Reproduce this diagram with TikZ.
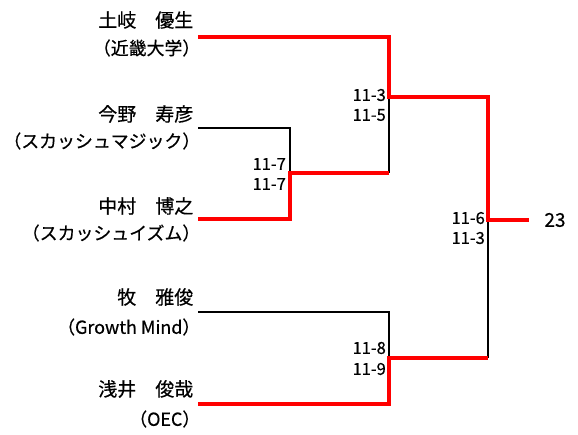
\documentclass[tikz,border=0pt]{standalone}
\usepackage{fontspec}
\setmainfont{Noto Sans CJK JP}[FakeBold=0.5]
\usetikzlibrary{calc,positioning}

\begin{document}
\begin{tikzpicture}
        [x=1pt,y=-1pt,
         player/.style={anchor=east, inner sep=0pt, font=\fontsize{19}{23}\selectfont},
         club/.style={anchor=east, inner sep=0pt, font=\fontsize{17.9}{21}\selectfont},
         score/.style={anchor=east, inner sep=0pt, font=\fontsize{16.5}{19}\selectfont},
         win/.style={draw=red, line width=3.2pt},
         lose/.style={draw=black, line width=1.3pt}]
        %\draw[help lines] (0,0) grid[step=50] (578,434);
        \useasboundingbox (0,0) rectangle (578,434);
        \node[player] (n1) at (193.5,20) {土岐　優生};
        \node[club] (c1) at (200.5,48) {（近畿大学）};
        \node[player] (n2) at (193.5,114) {今野　寿彦};
        \node[club] (c2) at (200.5,141) {（スカッシュマジック）};
        \node[player] (n3) at (193.5,206) {中村　博之};
        \node[club] (c3) at (200.5,233) {（スカッシュイズム）};
        \node[player] (n4) at (193.5,297) {牧　雅俊};
        \node[club] (c4) at (200.5,327) {（Growth Mind）};
        \node[player] (n5) at (193.5,389) {浅井　俊哉};
        \node[club] (c5) at (200.5,419) {（OEC）};
        \coordinate (p1) at (198,37);
        \coordinate (p2) at (198,128);
        \coordinate (p3) at (198,219);
        \coordinate (p4) at (198,312);
        \coordinate (p5) at (198,404);
        \coordinate (m1) at (290,173);
        \coordinate (q1) at (389,173);
        \coordinate (s1) at (389,97);
        \coordinate (s2) at (389,358);
        \coordinate (q2) at (488,358);
        \coordinate (f) at (488,220);
        \coordinate (w) at (529,220);
        \draw[lose] (p2) -| (m1);
        \draw[lose] (q1) -- (s1);
        \draw[lose] (p4) -| (s2);
        \draw[lose] (q2) -- (f);
        \draw[win] (p3) -| (m1) -- (q1);
        \draw[win] (p1) -| (s1) -| (f) -- (w);
        \draw[win] (p5) -| (s2) -- (q2);
        \node[score] (g1) at (286,164) {11-7};
        \node[score] (g2) at (286,184) {11-7};
        \node[score] (g3) at (386,95) {11-3};
        \node[score] (g4) at (386,115) {11-5};
        \node[score] (g5) at (386,348) {11-8};
        \node[score] (g6) at (386,369) {11-9};
        \node[score] (g7) at (485,218) {11-6};
        \node[score] (g8) at (485,238) {11-3};
        \node[player, anchor=center] (champ) at (555,220) {23};
      \end{tikzpicture}
\end{document}
